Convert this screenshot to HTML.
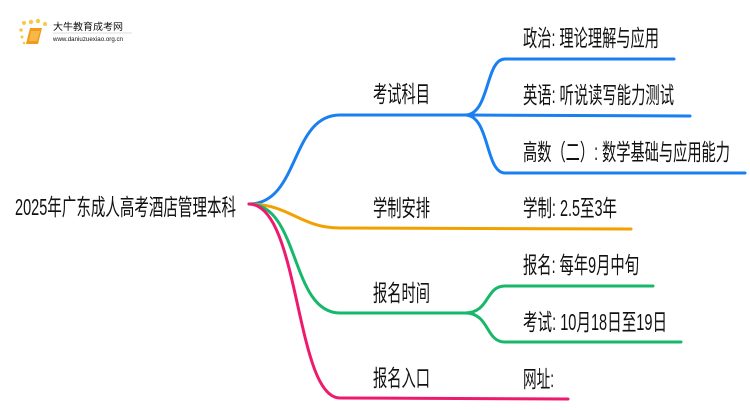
<!DOCTYPE html>
<html><head><meta charset="utf-8"><style>
html,body{margin:0;padding:0;background:#fff;width:750px;height:410px;overflow:hidden}
text{font-family:"Liberation Sans","Noto Sans CJK SC",sans-serif;fill:#111}
</style></head><body>
<svg width="750" height="410" xmlns="http://www.w3.org/2000/svg">
<g>
<circle cx="24" cy="23" r="2" fill="#f6c94a"/><circle cx="31" cy="22" r="2.2" fill="#f6c94a"/><circle cx="38" cy="21" r="2.2" fill="#f6c94a"/><circle cx="45" cy="24" r="2" fill="#f6c94a"/><circle cx="21" cy="30" r="1.8" fill="#f6c94a"/><circle cx="22" cy="37" r="1.5" fill="#f6c94a"/><circle cx="24" cy="43" r="1.3" fill="#f6c94a"/>
<path d="M30 28 L42 28 L38 44 L26 44 Z" fill="#f29a1a"/>
<path d="M31 31 L40 31 L37 41 L29 41 Z" fill="#f7b84a"/>
<text x="53" y="30" font-size="9.5" fill="#333" textLength="70" lengthAdjust="spacingAndGlyphs">大牛教育成考网</text>
<line x1="53" y1="33" x2="132" y2="33" stroke="#ddd" stroke-width="1"/>
<text x="53" y="41" font-size="6" fill="#666" textLength="70" lengthAdjust="spacingAndGlyphs">www.daniuzuexiao.org.cn</text>
</g>
<g fill="none" stroke-width="3" stroke-linecap="round">
<path d="M249 204 C300 204 290 115 340 115 L470 115" stroke="#1a7ff0"/>
<path d="M465 115 C490 115 485 59 505 59 L674 59" stroke="#1a7ff0"/>
<path d="M465 115 L690 116" stroke="#1a7ff0"/>
<path d="M465 115 C490 115 485 173 505 173 L745 173" stroke="#1a7ff0"/>
<path d="M249 204 C290 204 300 228 340 228 L631 229" stroke="#f2a100"/>
<path d="M249 204 C300 204 290 313 340 313 L470 313" stroke="#17b86a"/>
<path d="M465 313 C490 313 485 286 505 286 L653 286" stroke="#17b86a"/>
<path d="M465 313 C490 313 485 342 505 342 L681 342" stroke="#17b86a"/>
<path d="M249 204 C300 204 295 398 340 398 L568 399" stroke="#ee1a6e"/>
</g>
<g font-size="23">
<text x="15" y="215" textLength="221" lengthAdjust="spacingAndGlyphs">2025年广东成人高考酒店管理本科</text>
<text x="373" y="102" textLength="57" lengthAdjust="spacingAndGlyphs">考试科目</text>
<text x="373" y="216" textLength="57" lengthAdjust="spacingAndGlyphs">学制安排</text>
<text x="373" y="301" textLength="57" lengthAdjust="spacingAndGlyphs">报名时间</text>
<text x="373" y="386" textLength="57" lengthAdjust="spacingAndGlyphs">报名入口</text>
<text x="523" y="46" textLength="136" lengthAdjust="spacingAndGlyphs">政治: 理论理解与应用</text>
<text x="523" y="103" textLength="151" lengthAdjust="spacingAndGlyphs">英语: 听说读写能力测试</text>
<text x="523" y="160" textLength="207" lengthAdjust="spacingAndGlyphs">高数（二）: 数学基础与应用能力</text>
<text x="523" y="216" textLength="94" lengthAdjust="spacingAndGlyphs">学制: 2.5至3年</text>
<text x="523" y="273" textLength="116" lengthAdjust="spacingAndGlyphs">报名: 每年9月中旬</text>
<text x="523" y="330" textLength="144" lengthAdjust="spacingAndGlyphs">考试: 10月18日至19日</text>
<text x="523" y="387" textLength="31" lengthAdjust="spacingAndGlyphs">网址:</text>
</g>
</svg>
</body></html>
